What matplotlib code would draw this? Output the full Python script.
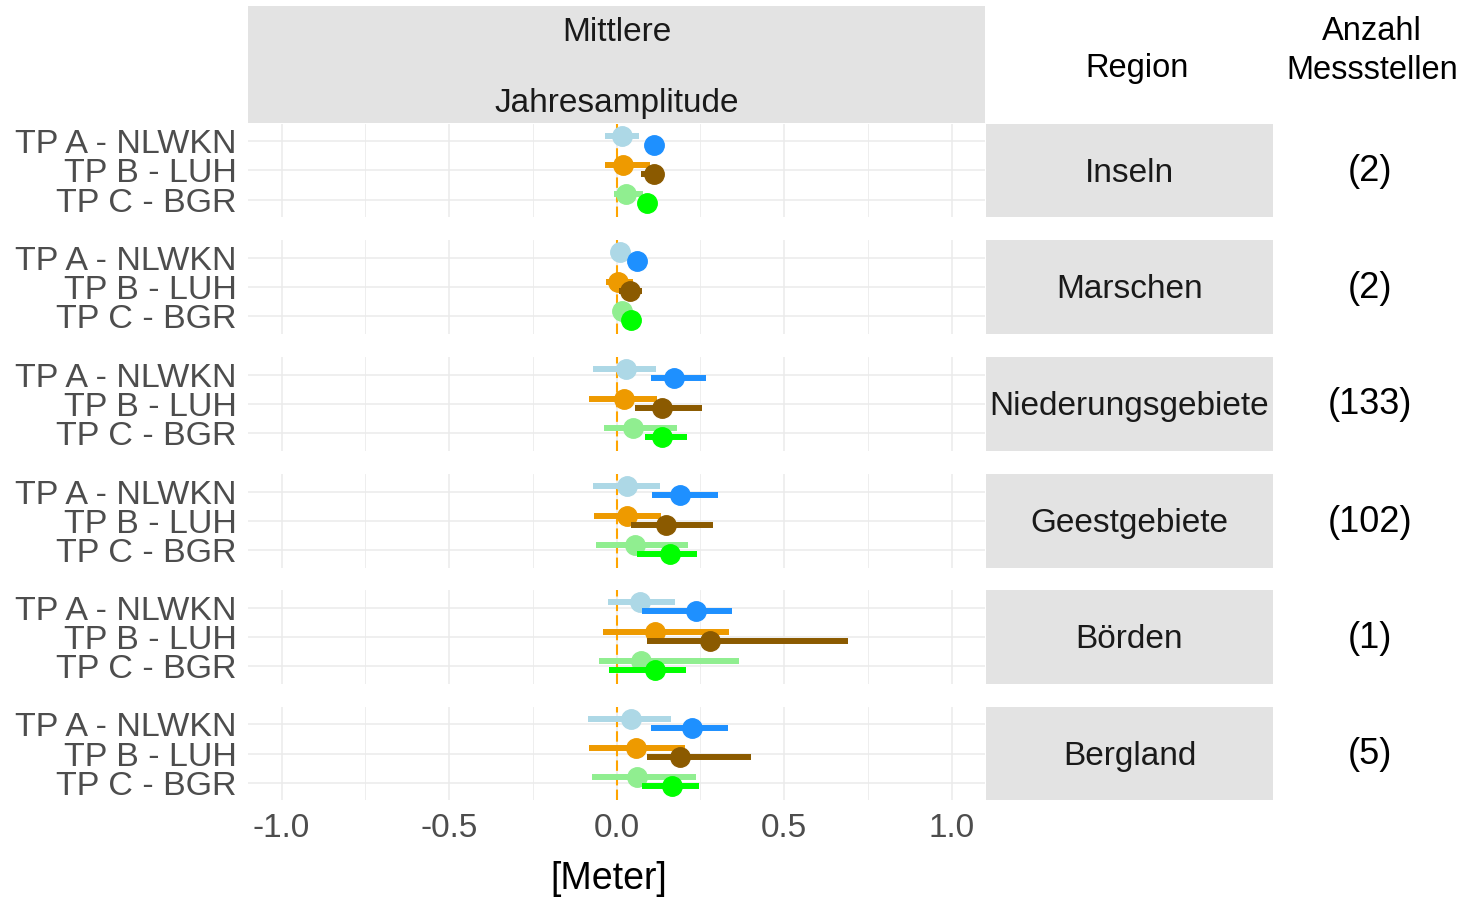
import matplotlib
matplotlib.use("Agg")
import matplotlib.pyplot as plt
from matplotlib.ticker import MultipleLocator

plt.rcParams["font.family"] = ["Liberation Sans", "DejaVu Sans"]

# ----- data -----
regions = ["Inseln", "Marschen", "Niederungsgebiete", "Geestgebiete", "Börden", "Bergland"]
counts = ["(2)", "(2)", "(133)", "(102)", "(1)", "(5)"]
sources = ["TP A - NLWKN", "TP B - LUH", "TP C - BGR"]

# one row per region, columns = TP A, TP B, TP C
light_mean = [
    [0.016, 0.019, 0.027],
    [0.009, 0.004, 0.017],
    [0.029, 0.021, 0.049],
    [0.032, 0.032, 0.055],
    [0.071, 0.114, 0.074],
    [0.044, 0.059, 0.061],
]
light_lo = [
    [-0.034, -0.034, -0.008],
    [-0.010, -0.031, -0.005],
    [-0.071, -0.081, -0.038],
    [-0.071, -0.067, -0.060],
    [-0.026, -0.041, -0.052],
    [-0.085, -0.081, -0.074],
]
light_hi = [
    [0.067, 0.101, 0.079],
    [0.028, 0.049, 0.040],
    [0.119, 0.122, 0.182],
    [0.131, 0.134, 0.212],
    [0.174, 0.336, 0.365],
    [0.163, 0.204, 0.237],
]
dark_mean = [
    [0.111, 0.112, 0.091],
    [0.061, 0.041, 0.042],
    [0.172, 0.136, 0.136],
    [0.191, 0.147, 0.161],
    [0.236, 0.280, 0.114],
    [0.224, 0.191, 0.167],
]
dark_lo = [
    [0.085, 0.074, 0.070],
    [0.045, 0.007, 0.025],
    [0.102, 0.055, 0.084],
    [0.106, 0.044, 0.062],
    [0.076, 0.091, -0.023],
    [0.102, 0.091, 0.077],
]
dark_hi = [
    [0.140, 0.139, 0.110],
    [0.075, 0.075, 0.060],
    [0.266, 0.256, 0.209],
    [0.302, 0.288, 0.240],
    [0.346, 0.692, 0.208],
    [0.332, 0.401, 0.246],
]

light_colors = ["#ADD8E6", "#EE9A00", "#90EE90"]
dark_colors = ["#1E90FF", "#8B5A00", "#00FF00"]

# ----- layout in pixels -----
W, H = 1461, 897
fig = plt.figure(figsize=(W / 100, H / 100), dpi=100)

def add_box(x0, y0, x1, y1):
    return fig.add_axes([x0 / W, 1 - y1 / H, (x1 - x0) / W, (y1 - y0) / H])

px0, px1 = 248, 985
sx0, sx1 = 986, 1273
panel_rows = [(124, 217), (240, 334), (357, 451), (474, 568), (590, 684), (707, 800)]
grid_col = "#EBEBEB"
ypos = [3, 2, 1]

for i, (top, bot) in enumerate(panel_rows):
    ax = add_box(px0, top, px1, bot)
    ax.set_xlim(-1.1, 1.1)
    ax.set_ylim(0.4, 3.6)
    ax.xaxis.set_major_locator(MultipleLocator(0.5))
    ax.xaxis.set_minor_locator(MultipleLocator(0.25))
    ax.grid(True, which="major", color=grid_col, lw=1.1)
    ax.grid(True, which="minor", axis="x", color=grid_col, lw=0.6)
    ax.set_axisbelow(True)
    for s in ax.spines.values():
        s.set_visible(False)
    ax.tick_params(which="both", length=0)
    ax.set_yticks(ypos)
    ax.set_yticklabels(sources, fontsize=24.5, color="#4D4D4D")
    ax.tick_params(axis="y", pad=8)
    if i == len(panel_rows) - 1:
        ax.tick_params(axis="x", labelsize=24, labelcolor="#4D4D4D", pad=9)
        ax.set_xticks([-1.0, -0.5, 0.0, 0.5, 1.0])
        ax.set_xticklabels(["-1.0", "-0.5", "0.0", "0.5", "1.0"])
        ax.set_xlabel("[Meter]", fontsize=27)
        ax.xaxis.set_label_coords(0.49, -0.66)
    else:
        ax.tick_params(axis="x", labelbottom=False)

    ax.axvline(0, color="#FFA500", lw=1.5, ls=(0, (5, 2)), zorder=1)

    for j in range(3):
        y = ypos[j] + 0.18
        ax.plot([light_lo[i][j], light_hi[i][j]], [y, y], color=light_colors[j],
                lw=4.3, solid_capstyle="butt", zorder=2)
        ax.plot(light_mean[i][j], y, "o", color=light_colors[j], ms=14, zorder=3)
    for j in range(3):
        y = ypos[j] - 0.13
        ax.plot([dark_lo[i][j], dark_hi[i][j]], [y, y], color=dark_colors[j],
                lw=4.3, solid_capstyle="butt", zorder=4)
        ax.plot(dark_mean[i][j], y, "o", color=dark_colors[j], ms=14, zorder=5)

    # region strip
    st = add_box(sx0, top, sx1, bot)
    st.set_facecolor("#E3E3E3")
    st.set_xticks([])
    st.set_yticks([])
    for s in st.spines.values():
        s.set_visible(False)
    st.text(0.5, 0.47, regions[i], ha="center", va="center", fontsize=24,
            color="#1A1A1A", transform=st.transAxes)

    fig.text(1370 / W, 1 - ((top + bot) / 2 + 1) / H, counts[i], ha="center", va="center",
             fontsize=26, color="black")

# top strip
ts = add_box(px0, 6, px1, 123)
ts.set_facecolor("#E3E3E3")
ts.set_xticks([])
ts.set_yticks([])
for s in ts.spines.values():
    s.set_visible(False)
ts.text(0.5, 0.47, "Mittlere\n\nJahresamplitude", ha="center", va="center",
        fontsize=24, color="#1A1A1A", linespacing=1.17, transform=ts.transAxes)

fig.text(1137 / W, 1 - 69 / H, "Region", ha="center", va="center", fontsize=23.5)
fig.text(1372 / W, 1 - 51 / H, "Anzahl\nMessstellen", ha="center", va="center",
         fontsize=23.5, linespacing=1.3)

fig.savefig("out.png", dpi=100)
